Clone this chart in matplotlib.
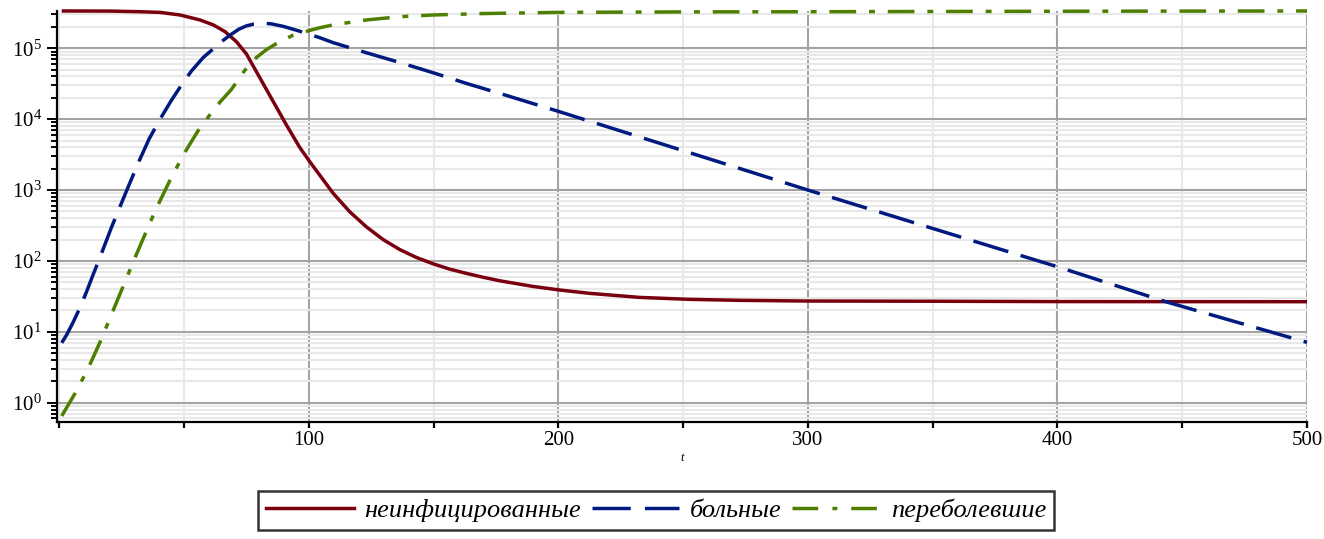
import numpy as np
import matplotlib
matplotlib.use('Agg')
import matplotlib.pyplot as plt
from matplotlib.lines import Line2D
from matplotlib.ticker import MultipleLocator, LogLocator, NullFormatter, FixedLocator

plt.rcParams['font.family'] = 'serif'
plt.rcParams['font.serif'] = ['Liberation Serif', 'DejaVu Serif']
plt.rcParams['mathtext.fontset'] = 'custom'
plt.rcParams['mathtext.rm'] = 'Liberation Serif'
plt.rcParams['mathtext.it'] = 'Liberation Serif:italic'

# values
t_healthy = [1, 20, 32.4, 40.4, 48.4, 56.4, 61.7, 66.4, 71, 75, 79, 83, 87, 91, 96.4,
             100.4, 104.4, 109.8, 116.4, 123.1, 129.8, 136.4, 143.1, 149.8, 156.4, 163.1,
             169.8, 176.5, 189.8, 200.5, 212.5, 232.5, 252.6, 272.6, 299, 350, 400, 500]
healthy = [336000, 335000, 328000, 321000, 295000, 251000, 214000, 172000, 124000, 83200,
           46800, 26300, 14800, 8320, 3980, 2510, 1620, 897, 494, 302, 200, 145, 112, 91.2,
           76.7, 66.8, 58.9, 52.5, 43.7, 38.9, 34.9, 30.6, 28.7, 27.8, 27.2, 27.0, 26.7, 26.6]

t_sick = [1, 3, 5.5, 8.3, 11, 13.5, 16, 21, 27.1, 32, 36, 40.4, 45, 49.7, 53, 57.7, 62,
          66, 69, 72, 75, 78, 81.7, 85, 89.7, 95.7, 104.4, 109.8, 123.1, 136.4, 149.8,
          163.1, 176.5, 200, 232.5, 272.6, 300, 339, 384.7, 400, 443.4, 500]
sick = [7.0, 9.1, 13.5, 21.9, 37.2, 63.1, 105, 302, 1000, 2570, 5250, 10000, 18600, 33100,
        47900, 74100, 100000, 132000, 158000, 186000, 207000, 220000, 226000, 221000,
        204000, 177000, 141000, 120000, 86500, 63100, 45200, 32000, 23100, 12900, 5620,
        2020, 1000, 378, 121, 82.8, 26.6, 7.1]

t_recovered = [1, 6.3, 9.6, 12.7, 16.3, 19, 21.6, 25.7, 27.7, 30.3, 34.3, 37, 40, 44.4,
               47.7, 51, 55.7, 60.1, 64.4, 69, 71, 74.4, 79, 83, 87.1, 93.7, 99.7, 104.4,
               109.8, 123.1, 136.4, 149.8, 169.8, 200, 250, 300, 400, 500]
recovered = [0.65, 1.35, 2.24, 3.72, 7.08, 12.0, 20.0, 44.7, 66.1, 110, 234, 389, 661, 1380,
             2290, 3720, 6920, 11200, 17400, 26300, 33100, 49000, 74100, 95500, 117000,
             153000, 176000, 195000, 214000, 251000, 279000, 295000, 309000, 321000,
             326000, 328000, 333000, 336000]

labels = ['неинфицированные', 'больные', 'переболевшие']
colors = ['#7a0010', '#001a80', '#4e7f00']
x_ticks = [100, 200, 300, 400, 500]

W, H = 1324, 539
fig = plt.figure(figsize=(W / 100, H / 100), dpi=100)
ax = fig.add_axes([57 / W, 117.3 / H, 1250 / W, 410.7 / H])

lw = 2.5
ax.plot(t_healthy, healthy, color=colors[0], lw=lw, solid_capstyle='butt', clip_on=False)
ax.plot(t_sick, sick, color=colors[1], lw=lw, dashes=(10.5, 3.7), dash_capstyle='butt',
        clip_on=False)
ax.plot(t_recovered, recovered, color=colors[2], lw=lw, dashes=(7.7, 3.7, 1.7, 3.7),
        dash_capstyle='butt', clip_on=False)

ax.set_yscale('log')
ax.set_xlim(-0.9, 500)
ax.set_ylim(10 ** -0.268, 10 ** 5.526)

ax.xaxis.set_major_locator(FixedLocator(x_ticks))
ax.xaxis.set_minor_locator(MultipleLocator(50))
ax.yaxis.set_major_locator(LogLocator(base=10, numticks=12))
ax.yaxis.set_minor_locator(LogLocator(base=10, subs=np.arange(2, 10), numticks=12))
ax.yaxis.set_minor_formatter(NullFormatter())

ax.set_axisbelow(True)
ax.grid(which='major', color='#a3a3a3', lw=1.5)
ax.grid(which='minor', color='#e8e8e8', lw=1.5)

for s in ['top', 'right']:
    ax.spines[s].set_visible(False)
for s in ['left', 'bottom']:
    ax.spines[s].set_linewidth(1.6)
    ax.spines[s].set_color('black')

ax.tick_params(axis='x', which='both', length=4, width=1.6, pad=3, labelsize=15)
ax.tick_params(axis='y', which='major', length=7, width=1.4, pad=4, labelsize=15)
ax.tick_params(axis='y', which='minor', length=4, width=1.4)

ax.set_xlabel('t', fontstyle='italic', fontsize=9, labelpad=1)

handles = [
    Line2D([], [], color=colors[0], lw=lw),
    Line2D([], [], color=colors[1], lw=lw, dashes=(11, 4.1), dash_capstyle='butt'),
    Line2D([], [], color=colors[2], lw=lw, dashes=(7.4, 4.1, 1.4, 4), dash_capstyle='butt'),
]
leg = fig.legend(handles, labels, loc='upper center', bbox_to_anchor=(656 / W, 1 - 491 / H),
                 ncol=3, frameon=True, fancybox=False, borderaxespad=0,
                 handlelength=3.33, handletextpad=0.4, columnspacing=0.4,
                 prop={'style': 'italic', 'size': 19}, borderpad=0.3)
leg.get_frame().set_edgecolor('black')
leg.get_frame().set_linewidth(1.8)

fig.savefig('out.png', dpi=100)
